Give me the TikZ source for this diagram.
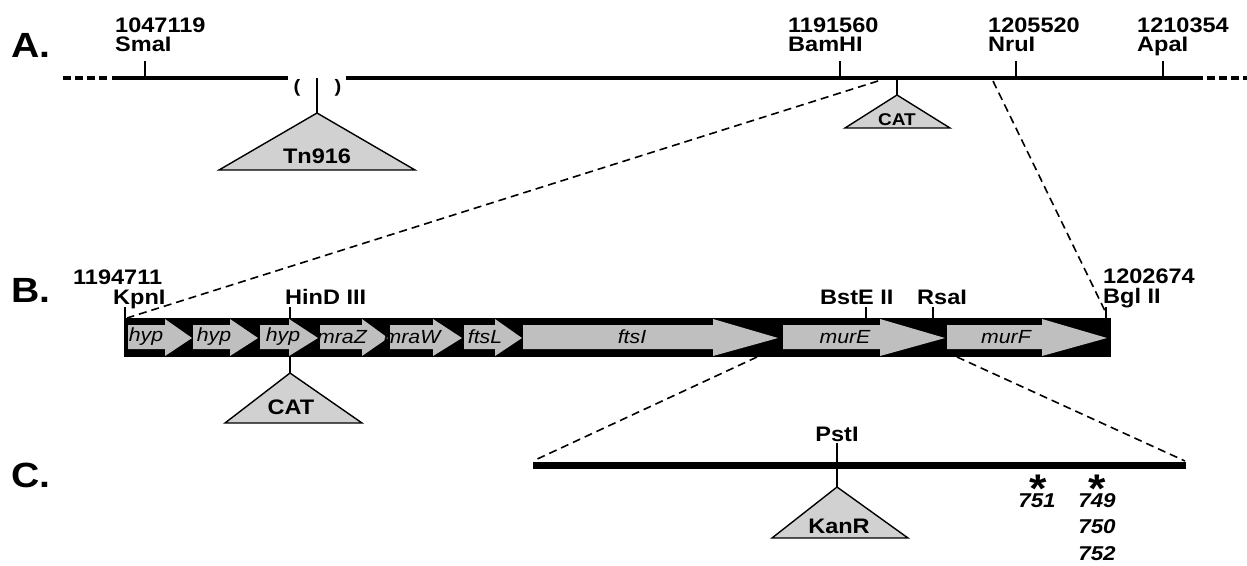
\documentclass[tikz,border=0pt]{standalone}
\usepackage{fontspec}
\setmainfont{Liberation Sans}[FakeStretch=1.12]
\begin{document}
\begin{tikzpicture}[x=1pt,y=-1pt,
  lbl/.style={font=\fontsize{21}{23}\selectfont\bfseries, inner sep=0pt, anchor=base west},
  big/.style={font=\fontsize{35}{38}\selectfont\bfseries, inner sep=0pt, anchor=base west},
  tlbl/.style={font=\fontsize{21}{23}\selectfont\bfseries, inner sep=0pt, anchor=base},
  slbl/.style={font=\fontsize{17}{19}\selectfont\bfseries, inner sep=0pt, anchor=base},
  gene/.style={font=\fontsize{19}{21}\selectfont\itshape, inner sep=0pt, anchor=center},
  num/.style={font=\fontsize{20}{22}\selectfont\bfseries\itshape, inner sep=0pt, anchor=base},
  star/.style={font=\fontsize{40}{40}\selectfont\bfseries, inner sep=0pt, anchor=base},
  tri/.style={draw, line width=1.4pt, fill=black!18, line join=miter},
  tickline/.style={line width=1.4pt},
  zoomline/.style={line width=1.6pt, dash pattern=on 8pt off 5pt},
  genefill/.style={fill=black!25, draw=none}]
\useasboundingbox (0,0) rectangle (1247,565);
\newcommand\genearr[3]{%
  \fill[genefill] (#1,325) -- (#2,325) -- (#2,319) -- (#3,338) -- (#2,356) -- (#2,349) -- (#1,349) -- cycle;}

% ---------- A ----------
\node[big] (LA) at (11,57) {A.};
\draw[line width=4pt, dash pattern=on 8pt off 4pt] (63,78) -- (109,78);
\draw[line width=4pt] (112,78) -- (288,78);
\draw[line width=4pt] (346,78) -- (1203,78);
\draw[line width=4pt, dash pattern=on 8pt off 4pt] (1207,78) -- (1247,78);
\node[font=\fontsize{18}{20}\selectfont\bfseries, inner sep=0pt] (pl) at (297,88) {(};
\node[font=\fontsize{18}{20}\selectfont\bfseries, inner sep=0pt] (pr) at (338,88) {)};

\node[lbl] (n1) at (115,32) {1047119};
\node[lbl] (smai) at (115,51) {SmaI};
\node[lbl] (n2) at (788,32) {1191560};
\node[lbl] (bamhi) at (788,51) {BamHI};
\node[lbl] (n3) at (988,32) {1205520};
\node[lbl] (nrui) at (988,51) {NruI};
\node[lbl] (n4) at (1137,32) {1210354};
\node[lbl] (apai) at (1137,51) {ApaI};
\foreach \x in {145,840,1016,1163} \draw[tickline] (\x,61) -- (\x,78);

% Tn916
\coordinate (tnapex) at (317,113);
\draw[tickline] (317,78) -- (tnapex);
\draw[tri] (tnapex) -- (415,170) -- (219,170) -- cycle;
\node[tlbl] (tn) at (317,163) {Tn916};
% CAT in A
\coordinate (catAapex) at (897,95);
\draw[tickline] (897,78) -- (catAapex);
\draw[tri] (catAapex) -- (950,128) -- (845,128) -- cycle;
\node[slbl] (catA) at (897,125) {CAT};

% zoom lines A -> B
\coordinate (zA1) at (878,81);
\coordinate (zA2) at (993,81);
\coordinate (zB1) at (127,318);
\coordinate (zB2) at (1106,313);
\draw[zoomline] (zA1) -- (zB1);
\draw[zoomline] (zA2) -- (zB2);

% ---------- B ----------
\node[big] (LB) at (11,302) {B.};
\fill[black] (124,318) rectangle (1111,357);
\genearr{128}{165}{192}
\genearr{193}{230}{258}
\genearr{260}{289}{318}
\genearr{320}{362}{388}
\genearr{390}{433}{462}
\genearr{464}{495}{522}
\genearr{523}{713}{778}
\genearr{783}{880}{945}
\genearr{947}{1042}{1107}
\node[gene] (g1) at (146,337) {hyp};
\node[gene] (g2) at (214,337) {hyp};
\node[gene] (g3) at (283,337) {hyp};
\node[gene] (g4) at (342,337) {mraZ};
\node[gene] (g5) at (412,337) {mraW};
\node[gene] (g6) at (485,337) {ftsL};
\node[gene] (g7) at (632,337) {ftsI};
\node[gene] (g8) at (845,337) {murE};
\node[gene] (g9) at (1006,337) {murF};

\node[lbl] (n5) at (73,284) {1194711};
\node[lbl] (kpni) at (113,304) {KpnI};
\node[lbl] (hind) at (285,304) {HinD III};
\node[lbl] (bste) at (820,304) {BstE II};
\node[lbl] (rsai) at (917,304) {RsaI};
\node[lbl] (n6) at (1103,283) {1202674};
\node[lbl] (bgl) at (1103,303) {Bgl II};
\foreach \x in {125,290,866,933,1106} \draw[tickline] (\x,307) -- (\x,318);

% CAT in B
\coordinate (catBapex) at (290,373);
\draw[tickline] (290,357) -- (catBapex);
\draw[tri] (catBapex) -- (362,423) -- (225,423) -- cycle;
\node[tlbl] (catB) at (291,414) {CAT};

% zoom lines B -> C
\coordinate (zB3) at (757,357);
\coordinate (zB4) at (957,357);
\coordinate (zC1) at (533,461);
\coordinate (zC2) at (1185,461);
\draw[zoomline] (zB3) -- (zC1);
\draw[zoomline] (zB4) -- (zC2);

% ---------- C ----------
\node[big] (LC) at (11,487) {C.};
\draw[line width=7pt] (533,465) -- (1186,465);
\node[tlbl] (psti) at (837,441) {PstI};
\coordinate (kanapex) at (837,487);
\draw[tickline] (837,443) -- (kanapex);
\draw[tri] (kanapex) -- (908,538) -- (772,538) -- cycle;
\node[tlbl] (kan) at (839,533) {KanR};

\node[star] (s1) at (1038,502) {\smash{*}};
\node[star] (s2) at (1097,502) {\smash{*}};
\node[num] (m751) at (1037,507) {751};
\node[num] (m749) at (1097,507) {749};
\node[num] (m750) at (1097,533) {750};
\node[num] (m752) at (1097,560) {752};
\end{tikzpicture}
\end{document}
